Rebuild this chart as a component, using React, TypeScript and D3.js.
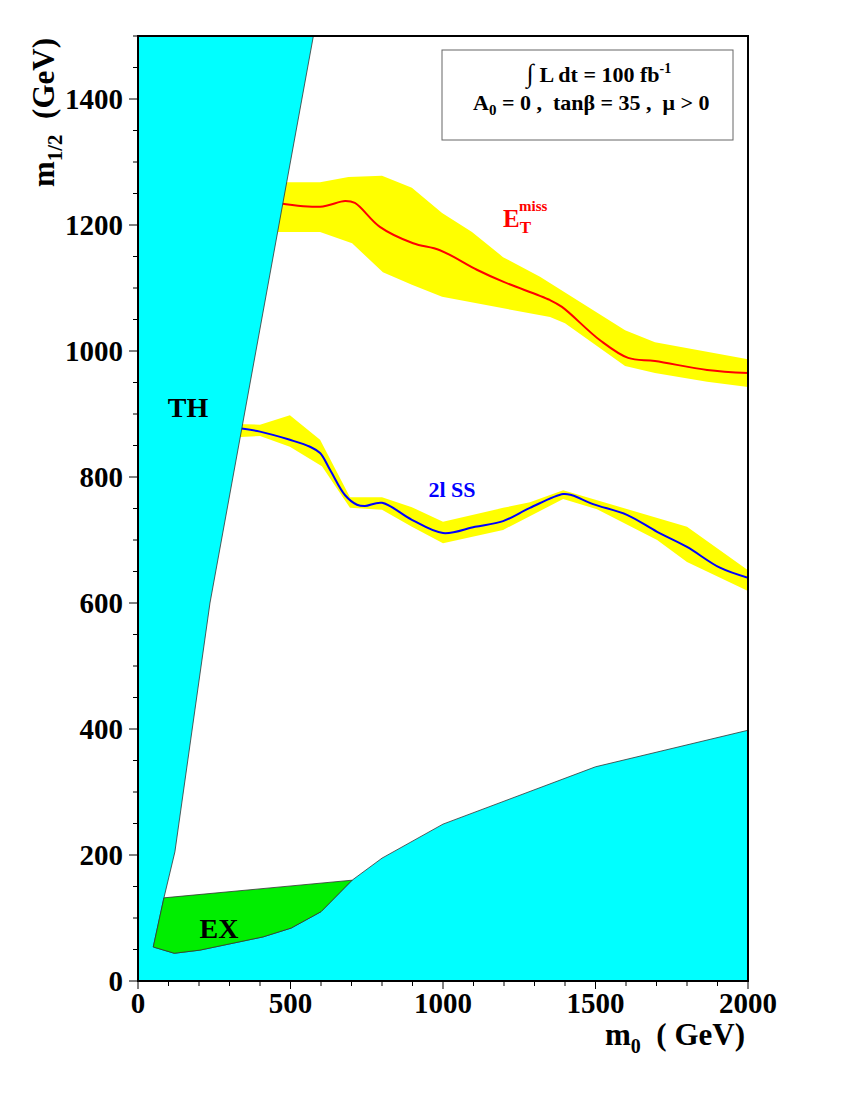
import React from 'react';
import * as d3 from 'd3';

// ---------- data (m0, m1/2) in GeV ----------
const xTickValues = [0, 500, 1000, 1500, 2000];
const yTickValues = [0, 200, 400, 600, 800, 1000, 1200, 1400];

// theoretically excluded region (left) boundary
const thBoundary: [number, number][] = [
  [575, 1500], [236, 600], [121, 205], [85, 132], [50, 54],
];
// bottom excluded region boundary
const bottomBoundary: [number, number][] = [
  [0, 54], [50, 54], [119, 44], [203, 49], [410, 70], [502, 84], [600, 110], [702, 160],
  [800, 195], [1000, 249], [1500, 340], [2000, 398],
];
// experimentally excluded region
const exRegion: [number, number][] = [
  [50, 54], [85, 132], [702, 160], [600, 110], [502, 84], [410, 70], [203, 49], [119, 44],
];

// E_T^miss reach
const etmissLine: [number, number][] = [
  [440, 1236], [597, 1229], [679, 1238], [711, 1235], [793, 1197], [902, 1171], [990, 1160],
  [1111, 1129], [1197, 1110], [1350, 1081], [1390, 1070], [1515, 1017], [1607, 989],
  [1695, 984], [1866, 970], [2000, 965],
];
const etmissUpper: [number, number][] = [
  [440, 1268], [597, 1268], [690, 1276], [800, 1278], [898, 1259], [997, 1219], [1095, 1189],
  [1197, 1149], [1318, 1118], [1597, 1033], [1695, 1014], [2000, 987],
];
const etmissLower: [number, number][] = [
  [440, 1189], [597, 1189], [702, 1171], [803, 1125], [898, 1105], [997, 1086], [1351, 1054],
  [1400, 1044], [1597, 976], [1695, 965], [1866, 951], [2000, 943],
];

// 2l SS reach
const ssLine: [number, number][] = [
  [320, 878], [400, 872], [498, 859], [564, 848], [597, 838], [630, 811], [679, 771],
  [718, 756], [744, 754], [800, 759], [898, 732], [1000, 711], [1105, 721], [1197, 730],
  [1285, 751], [1394, 773], [1423, 771], [1492, 757], [1603, 740], [1702, 713], [1800, 689],
  [1908, 656], [2000, 640],
];
const ssUpper: [number, number][] = [
  [320, 884], [400, 883], [498, 898], [597, 859], [695, 768], [800, 768], [898, 752],
  [1000, 729], [1197, 751], [1285, 760], [1394, 779], [1800, 721], [2000, 652],
];
const ssLower: [number, number][] = [
  [320, 863], [400, 865], [498, 848], [603, 817], [695, 751], [800, 748], [898, 721],
  [1000, 695], [1197, 716], [1394, 765], [1505, 749], [1702, 700], [1800, 665], [2000, 619],
];

// ---------- layout ----------
const W = 850, H = 1100;
const L = 138, R = 748, T = 36, B = 981;
const FONT = '"Liberation Serif", "Times New Roman", serif';

export default function App() {
  const x = d3.scaleLinear().domain([0, 2000]).range([L, R]);
  const y = d3.scaleLinear().domain([0, 1500]).range([B, T]);

  const line = d3.line<[number, number]>().x(d => x(d[0])).y(d => y(d[1]));
  const smooth = d3.line<[number, number]>().x(d => x(d[0])).y(d => y(d[1])).curve(d3.curveCatmullRom.alpha(0.5));
  const poly = (pts: [number, number][]) => line(pts) + 'Z';
  const band = (up: [number, number][], lo: [number, number][]) => poly([...up, ...lo.slice().reverse()]);

  const bottomPoly = poly([[0, 0], ...bottomBoundary, [2000, 0]]);
  const thPoly = poly([[0, 0], [0, 1500], ...thBoundary, [50, 0]]);

  const xMinor = d3.range(0, 2001, 100);
  const yMinor = d3.range(0, 1501, 50);

  return (
    <svg width={W} height={H} style={{ position: 'absolute', left: 0, top: 0, background: '#fff' }} fontFamily={FONT}>
      <defs>
        <clipPath id="plot"><rect x={L} y={T} width={R - L} height={B - T} /></clipPath>
      </defs>
      <rect x={0} y={0} width={W} height={H} fill="#fff" />
      <g clipPath="url(#plot)">
        <path d={band(etmissUpper, etmissLower)} fill="#ffff00" />
        <path d={band(ssUpper, ssLower)} fill="#ffff00" />
        <path d={smooth(etmissLine) || ''} fill="none" stroke="#ff0000" strokeWidth={2} />
        <path d={smooth(ssLine) || ''} fill="none" stroke="#0000ff" strokeWidth={2} />
        <path d={bottomPoly} fill="#00ffff" />
        <path d={line(bottomBoundary) || ''} fill="none" stroke="#333" strokeWidth={0.8} />
        <path d={thPoly} fill="#00ffff" />
        <path d={line(thBoundary) || ''} fill="none" stroke="#333" strokeWidth={0.8} />
        <path d={poly(exRegion)} fill="#00ee00" stroke="#333" strokeWidth={0.8} />
      </g>
      {/* frame */}
      <rect x={L} y={T} width={R - L} height={B - T} fill="none" stroke="#000" strokeWidth={2} />
      {/* ticks */}
      {xMinor.map(v => (
        <line key={'xm' + v} x1={x(v)} x2={x(v)} y1={B} y2={B + (v % 500 === 0 ? 8 : 5)} stroke="#000" strokeWidth={1} />
      ))}
      {yMinor.map(v => (
        <line key={'ym' + v} x1={L} x2={L - (v % 200 === 0 ? 9 : 5)} y1={y(v)} y2={y(v)} stroke="#000" strokeWidth={1} />
      ))}
      {xTickValues.map(v => (
        <text key={'xt' + v} x={x(v)} y={1013} textAnchor="middle" fontSize={29} fontWeight="bold">{v}</text>
      ))}
      {yTickValues.map(v => (
        <text key={'yt' + v} x={123} y={y(v) + 10} textAnchor="end" fontSize={29} fontWeight="bold">{v}</text>
      ))}
      {/* axis titles */}
      <text x={745} y={1045} textAnchor="end" fontSize={31} fontWeight="bold">
        m<tspan dy={8} fontSize={20}>0</tspan><tspan dy={-8} xmlSpace="preserve">{'  ( GeV)'}</tspan>
      </text>
      <text transform="translate(54,38) rotate(-90)" textAnchor="end" fontSize={31} fontWeight="bold">
        m<tspan dy={8} fontSize={21}>1/2</tspan><tspan dy={-8} xmlSpace="preserve">{'  (GeV)'}</tspan>
      </text>
      {/* region labels */}
      <text x={188} y={417} textAnchor="middle" fontSize={28} fontWeight="bold">TH</text>
      <text x={219} y={938} textAnchor="middle" fontSize={28} fontWeight="bold">EX</text>
      <text x={452} y={497} textAnchor="middle" fontSize={22} fontWeight="bold" fill="#0000ff">2l SS</text>
      <text x={503} y={227} fontSize={25} fontWeight="bold" fill="#ff0000">
        E<tspan dy={6} fontSize={17}>T</tspan>
      </text>
      <text x={519} y={211} fontSize={15} fontWeight="bold" fill="#ff0000">miss</text>
      {/* info box */}
      <rect x={442} y={50} width={291} height={90} fill="#fff" stroke="#666" strokeWidth={1} />
      <text x={599} y={82} textAnchor="middle" fontSize={22} fontWeight="bold">
        <tspan fontSize={26}>∫</tspan> L dt = 100 fb<tspan dy={-9} fontSize={14}>-1</tspan>
      </text>
      <text x={473} y={110} fontSize={22} fontWeight="bold" xmlSpace="preserve">
        A<tspan dy={5} fontSize={15}>0</tspan><tspan dy={-5}>{' = 0 ,  tanβ = 35 ,  μ > 0'}</tspan>
      </text>
    </svg>
  );
}
